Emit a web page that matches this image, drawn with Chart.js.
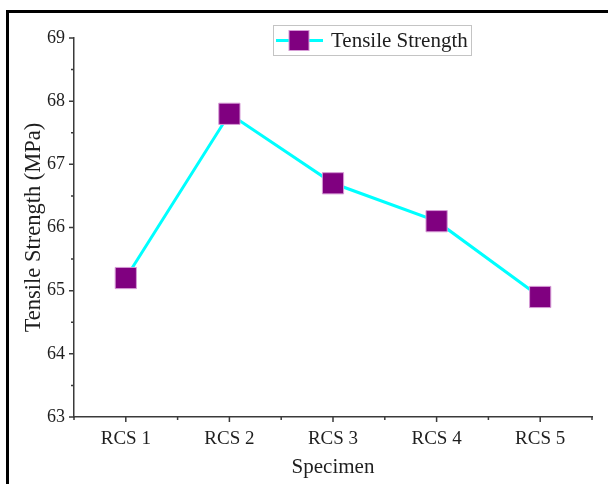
<!DOCTYPE html>
<html>
<head>
<meta charset="utf-8">
<script src="https://cdn.jsdelivr.net/npm/chart.js@4.4.1/dist/chart.umd.min.js"></script>
<style>
  html, body { margin: 0; padding: 0; background: #ffffff; }
  #wrap { position: relative; width: 608px; height: 484px; }
</style>
</head>
<body>
<div id="wrap"><canvas id="chart" width="608" height="484"></canvas></div>
<script>
// Specimens and their measured tensile strength (MPa)
const specimens = ['RCS 1', 'RCS 2', 'RCS 3', 'RCS 4', 'RCS 5'];
const tensileStrength = [65.2, 67.8, 66.7, 66.1, 64.9];
const seriesLabel = 'Tensile Strength';
const yMin = 63, yMax = 69;

const serif = "'Liberation Serif', 'Times New Roman', serif";
const ink = '#1e1e1e';
const axisInk = '#3a3a3a';

Chart.defaults.font.family = serif;
Chart.defaults.color = ink;

// Outer frame, outward axis ticks (major + minor) and the boxed legend
const decorations = {
  id: 'decorations',
  beforeDraw(chart) {
    const ctx = chart.ctx;
    ctx.save();
    ctx.fillStyle = '#ffffff';
    ctx.fillRect(0, 0, chart.width, chart.height);
    ctx.fillStyle = '#000000';
    ctx.fillRect(6, 10, chart.width - 6, 3);
    ctx.fillRect(6, 10, 3, chart.height - 10);
    ctx.restore();
  },
  afterDraw(chart) {
    const ctx = chart.ctx;
    const x = chart.scales.x, y = chart.scales.y;
    const area = chart.chartArea;
    ctx.save();
    ctx.strokeStyle = axisInk;
    ctx.lineWidth = 1.5;
    ctx.beginPath();
    // y-axis ticks
    for (let v = yMin; v <= yMax; v += 1) {
      const py = y.getPixelForValue(v);
      ctx.moveTo(area.left, py); ctx.lineTo(area.left - 5, py);
      if (v < yMax) {
        const pm = y.getPixelForValue(v + 0.5);
        ctx.moveTo(area.left, pm); ctx.lineTo(area.left - 3, pm);
      }
    }
    // x-axis ticks
    const n = specimens.length;
    for (let i = 0; i < n; i++) {
      const px = x.getPixelForValue(i);
      ctx.moveTo(px, area.bottom); ctx.lineTo(px, area.bottom + 5);
    }
    for (let i = 0; i <= n; i++) {
      const px = x.getPixelForValue(i - 0.5);
      ctx.moveTo(px, area.bottom); ctx.lineTo(px, area.bottom + 3);
    }
    ctx.stroke();

    // legend
    const ds = chart.data.datasets[0];
    const bx = 273, by = 25, bw = 198, bh = 30;
    ctx.strokeStyle = '#c4c4c4';
    ctx.lineWidth = 1;
    ctx.strokeRect(bx + 0.5, by + 0.5, bw, bh);
    const cy = by + bh / 2 + 0.5;
    ctx.strokeStyle = ds.borderColor;
    ctx.lineWidth = ds.borderWidth;
    ctx.beginPath();
    ctx.moveTo(bx + 3, cy); ctx.lineTo(bx + 50, cy);
    ctx.stroke();
    const s = 20;
    ctx.fillStyle = ds.pointBackgroundColor;
    ctx.fillRect(bx + 26 - s / 2, cy - s / 2, s, s);
    ctx.strokeStyle = ds.pointBorderColor;
    ctx.lineWidth = 1;
    ctx.strokeRect(bx + 26 - s / 2, cy - s / 2, s, s);
    ctx.fillStyle = ink;
    ctx.font = '21px ' + serif;
    ctx.textBaseline = 'middle';
    ctx.fillText(ds.label, bx + 58, cy + 1);
    ctx.restore();
  }
};

new Chart(document.getElementById('chart'), {
  type: 'line',
  data: {
    labels: specimens,
    datasets: [{
      label: seriesLabel,
      data: tensileStrength,
      borderColor: '#00ffff',
      borderWidth: 3,
      pointStyle: 'rect',
      pointRadius: 15,
      pointHoverRadius: 15,
      pointBackgroundColor: '#800080',
      pointBorderColor: '#d59ad5',
      pointBorderWidth: 1,
      tension: 0
    }]
  },
  options: {
    responsive: false,
    animation: false,
    devicePixelRatio: 1,
    layout: { padding: { left: 0, top: 38, right: 12, bottom: 0 } },
    plugins: { legend: { display: false }, tooltip: { enabled: false } },
    scales: {
      x: {
        type: 'category',
        offset: true,
        grid: { display: false, drawTicks: false },
        border: { display: true, color: axisInk, width: 1.5 },
        ticks: { color: ink, font: { family: serif, size: 19 }, padding: 11, maxRotation: 0 },
        title: { display: true, text: 'Specimen', color: ink, font: { family: serif, size: 21 }, padding: { top: 4, bottom: 4 } },
        afterFit(scale) { scale.height = 484 - 417; }
      },
      y: {
        type: 'linear',
        min: yMin,
        max: yMax,
        grid: { display: false, drawTicks: false },
        border: { display: true, color: axisInk, width: 1.5 },
        ticks: { stepSize: 1, color: ink, font: { family: serif, size: 18 }, padding: 9 },
        title: { display: true, text: 'Tensile Strength (MPa)', color: ink, font: { family: serif, size: 22.5 }, padding: { top: 21, bottom: 0 } },
        afterFit(scale) { scale.width = 74; }
      }
    }
  },
  plugins: [decorations]
});
</script>
</body>
</html>
